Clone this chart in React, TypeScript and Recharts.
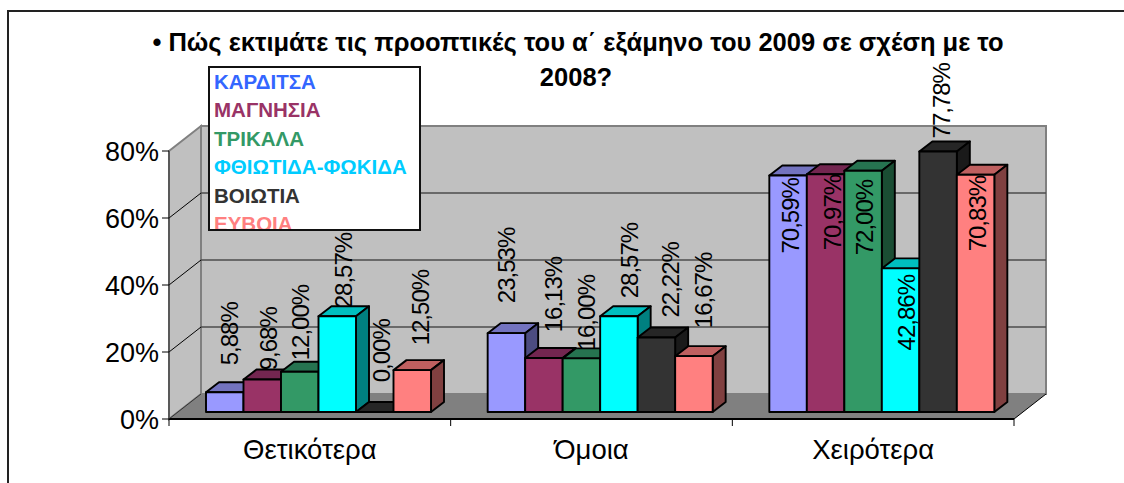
import React from 'react';
import { BarChart, Bar, XAxis, YAxis, Legend } from 'recharts';

const CATEGORIES = ['Θετικότερα', 'Όμοια', 'Χειρότερα'];
const SERIES_NAMES = ['ΚΑΡΔΙΤΣΑ', 'ΜΑΓΝΗΣΙΑ', 'ΤΡΙΚΑΛΑ', 'ΦΘΙΩΤΙΔΑ-ΦΩΚΙΔΑ', 'ΒΟΙΩΤΙΑ', 'ΕΥΒΟΙΑ'];
const KARDITSA = [5.88, 23.53, 70.59];
const MAGNISIA = [9.68, 16.13, 70.97];
const TRIKALA = [12.0, 16.0, 72.0];
const FTHIOTIDA = [28.57, 28.57, 42.86];
const VOIOTIA = [0.0, 22.22, 77.78];
const EVVOIA = [12.5, 16.67, 70.83];
const SERIES_VALUES = [KARDITSA, MAGNISIA, TRIKALA, FTHIOTIDA, VOIOTIA, EVVOIA];
const Y_TICKS = [0, 20, 40, 60, 80];
const TITLE_LINES = ['• Πώς εκτιμάτε τις προοπτικές του α΄ εξάμηνο του 2009 σε σχέση με το', '2008?'];

const FACE_COLORS = ['#9999FF', '#993366', '#339966', '#00FFFF', '#333333', '#FF8080'];
const TOP_COLORS = ['#7373BF', '#732650', '#267350', '#00BFBF', '#262626', '#BF6060'];
const SIDE_COLORS = ['#4C4C80', '#4D1A33', '#1A4D33', '#008080', '#1A1A1A', '#804040'];
const LEGEND_COLORS = ['#3366FF', '#993366', '#339966', '#00CCFF', '#333333', '#FF8080'];

// hand placed data labels in the original: [dx from bar centre, gap above bar top], per series then category
const LABEL_NUDGE = [
  [[6, 27], [1.4, 30], [3.7, -78]],
  [[7.5, 9.3], [10.8, 25.7], [8, -76]],
  [[2, 11.5], [6.2, 8], [2.6, -84.5]],
  [[7.4, 8], [11.7, 18], [7, -82]],
  [[7.8, 29.7], [15, 20], [4.4, 13]],
  [[9.3, 24.8], [10.6, 28], [2.9, -76.6]],
];

const WIDTH = 1124;
const HEIGHT = 483;
const FONT = '"Liberation Sans", Arial, sans-serif';
const PLOT = { left: 169, right: 1014, top: 151, bottom: 419 };
const WALL = { dx: 32, dy: -25 };
const BAR_SHIFT = { dx: 9, dy: -7 };
const BAR_DEPTH = { dx: 13, dy: -10 };
const LABEL_SIZE = 24;

const chartData = CATEGORIES.map((name, i) => {
  const row: Record<string, string | number> = { name };
  SERIES_NAMES.forEach((s, j) => {
    row[s] = SERIES_VALUES[j][i];
  });
  return row;
});

const pts = (list: number[][]) => list.map((p) => p.join(',')).join(' ');
const yFor = (v: number) => PLOT.bottom - (v / 80) * (PLOT.bottom - PLOT.top);

const Backdrop = () => {
  const { left, right, top, bottom } = PLOT;
  const { dx, dy } = WALL;
  const band = (right - left) / CATEGORIES.length;
  return (
    <g>
      <polygon
        points={pts([[left + dx, top + dy], [right + dx, top + dy], [right + dx, bottom + dy], [left + dx, bottom + dy]])}
        fill="#C0C0C0"
        stroke="#808080"
        strokeWidth={2}
      />
      <polygon
        points={pts([[left, top], [left + dx, top + dy], [left + dx, bottom + dy], [left, bottom]])}
        fill="#C0C0C0"
        stroke="#808080"
        strokeWidth={2}
      />
      <polygon
        points={pts([[left, bottom], [right, bottom], [right + dx, bottom + dy], [left + dx, bottom + dy]])}
        fill="#808080"
      />
      {Y_TICKS.filter((v) => v > 0 && v < 80).map((v) => (
        <g key={v}>
          <line x1={left} y1={yFor(v)} x2={left + dx} y2={yFor(v) + dy} stroke="#000" strokeWidth={1} />
          <line x1={left + dx} y1={yFor(v) + dy} x2={right + dx} y2={yFor(v) + dy} stroke="#4d4d4d" strokeWidth={1.5} />
        </g>
      ))}
      <line x1={left} y1={bottom} x2={left + dx} y2={bottom + dy} stroke="#333" strokeWidth={1} />
      <line x1={right} y1={bottom} x2={right + dx} y2={bottom + dy} stroke="#000" strokeWidth={1} />
      {[0, 1, 2, 3].map((i) => (
        <line key={i} x1={left + band * i} y1={bottom} x2={left + band * i} y2={bottom + 7} stroke="#000" strokeWidth={1} />
      ))}
    </g>
  );
};

const Title = () => (
  <g>
    <text x={578} y={51} textAnchor="middle" fontFamily={FONT} fontSize={25.5} fontWeight="bold" fill="#000">
      {TITLE_LINES[0]}
    </text>
    <text x={576} y={86} textAnchor="middle" fontFamily={FONT} fontSize={25.5} fontWeight="bold" fill="#000">
      {TITLE_LINES[1]}
    </text>
  </g>
);

const makeBox = (seriesIndex: number) => (props: any) => {
  const { x, y, width, height, value, index } = props;
  const left = x + BAR_SHIFT.dx;
  const right = left + width;
  const top = y + BAR_SHIFT.dy;
  const base = top + height;
  const { dx, dy } = BAR_DEPTH;
  const stroke = { stroke: '#000', strokeWidth: 1.9, strokeLinejoin: 'round' as const };

  const [nudgeX, gap] = LABEL_NUDGE[seriesIndex][index];
  const labelX = left + width / 2 + nudgeX + LABEL_SIZE * 0.3;
  const labelY = top - gap;
  const amount = Array.isArray(value) ? value[1] - value[0] : value;
  const text = `${amount.toFixed(2).replace('.', ',')}%`;
  const label = (
    <text
      x={labelX}
      y={labelY}
      transform={`rotate(-90 ${labelX} ${labelY})`}
      fontFamily={FONT}
      fontSize={LABEL_SIZE}
      letterSpacing={-1}
      fill="#000"
    >
      {text}
    </text>
  );
  // labels that sit fully on the bar go over it, the others get hidden by the bar top
  const labelOnBar = labelY - LABEL_SIZE * 3 >= top + dy;

  return (
    <g>
      {!labelOnBar && label}
      <polygon points={pts([[left, top], [left + dx, top + dy], [right + dx, top + dy], [right, top]])} fill={TOP_COLORS[seriesIndex]} {...stroke} />
      <polygon points={pts([[right, top], [right + dx, top + dy], [right + dx, base + dy], [right, base]])} fill={SIDE_COLORS[seriesIndex]} {...stroke} />
      <rect x={left} y={top} width={width} height={height} fill={FACE_COLORS[seriesIndex]} {...stroke} />
      {labelOnBar && label}
    </g>
  );
};

const LegendBox = () => (
  <div
    style={{
      boxSizing: 'border-box',
      width: 213,
      height: 165,
      background: '#fff',
      border: '2px solid #111',
      overflow: 'hidden',
      padding: '0 0 0 4px',
      fontFamily: FONT,
      fontWeight: 'bold',
      fontSize: 20.5,
      lineHeight: '28.4px',
      textAlign: 'left',
    }}
  >
    {SERIES_NAMES.map((name, i) => (
      <div key={name} style={{ color: LEGEND_COLORS[i], whiteSpace: 'nowrap' }}>
        {name}
      </div>
    ))}
  </div>
);

export default function App() {
  return (
    <div style={{ position: 'absolute', left: 0, top: 0, width: WIDTH, height: HEIGHT, background: '#fff', overflow: 'hidden' }}>
      <div
        style={{
          position: 'absolute',
          left: 7,
          top: 10,
          width: WIDTH,
          height: HEIGHT,
          borderTop: '2px solid #222',
          borderLeft: '2px solid #222',
        }}
      />
      <BarChart
        width={WIDTH}
        height={HEIGHT}
        data={chartData}
        barSize={37.5}
        barGap={0}
        margin={{ top: PLOT.top, left: PLOT.left - 60, right: WIDTH - PLOT.right, bottom: HEIGHT - PLOT.bottom - 44 }}
      >
        <Backdrop />
        <Title />
        <XAxis
          dataKey="name"
          height={44}
          tickLine={false}
          axisLine={{ stroke: '#000', strokeWidth: 2 }}
          tickMargin={14}
          tick={{ fontFamily: FONT, fontSize: 27.5, fill: '#000' }}
        />
        <YAxis
          width={60}
          domain={[0, 80]}
          ticks={Y_TICKS}
          tickFormatter={(v: number) => `${v}%`}
          tickSize={7}
          tickMargin={3}
          tickLine={{ stroke: '#000' }}
          axisLine={{ stroke: '#333' }}
          tick={{ fontFamily: FONT, fontSize: 27, fill: '#000' }}
        />
        {SERIES_NAMES.map((name, i) => (
          <Bar key={name} dataKey={name} isAnimationActive={false} shape={makeBox(i)} />
        ))}
        <Legend
          align="center"
          verticalAlign="middle"
          wrapperStyle={{ left: 208, top: 66, width: 213, height: 165 }}
          content={() => <LegendBox />}
        />
      </BarChart>
    </div>
  );
}
